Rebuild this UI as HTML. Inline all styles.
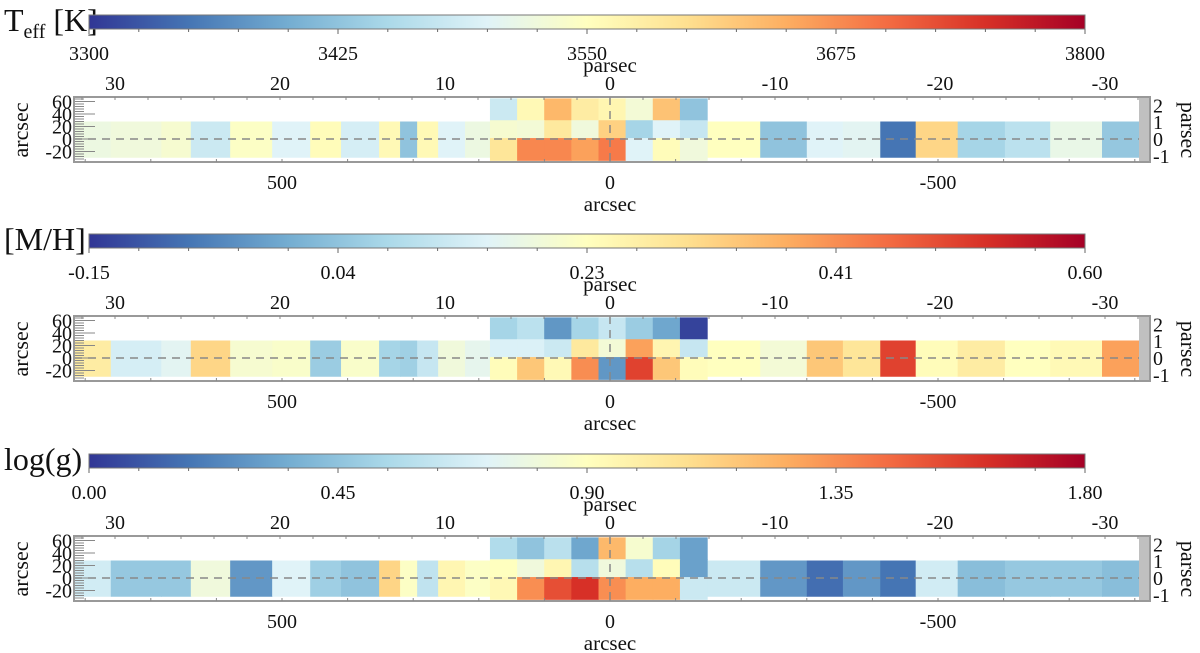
<!DOCTYPE html>
<html><head><meta charset="utf-8">
<style>
html,body{margin:0;padding:0;background:#fff;}
svg{display:block;font-family:"Liberation Serif",serif;}
</style></head>
<body>
<svg id="fig" width="1200" height="653" viewBox="0 0 1200 653" xmlns="http://www.w3.org/2000/svg"></svg>
<script>
// ---- data ----
const panelTitles = ["Teff", "[M/H]", "log(g)"];
const cbarMin = [3300, -0.15, 0.00];
const cbarMax = [3800, 0.60, 1.80];
const cbarTicks1 = ["3300", "3425", "3550", "3675", "3800"];
const cbarTicks2 = ["-0.15", "0.04", "0.23", "0.41", "0.60"];
const cbarTicks3 = ["0.00", "0.45", "0.90", "1.35", "1.80"];
const parsecTicks = [30, 20, 10, 0, -10, -20, -30];
const arcsecTicks = [500, 0, -500];
const yArcTicks = [60, 40, 20, 0, -20];
const yPcTicks = [2, 1, 0, -1];
// bin edges along the strip, in arcsec
const leftEdges = [817, 761, 684, 639, 579, 515, 457, 410, 352, 320, 294, 262, 221, 183];
const rightEdges = [-148, -229, -300, -355, -412, -466, -530, -602, -671, -750, -823];
const centerEdges = [183, 141.6, 100.3, 58.9, 17.5, -23.8, -65.2, -106.6, -148];
const centerRowEdges = [65, 30, 1.5, -34];
const stripTop = 28, stripBot = -30;
// values
const teffLeft = [3520,3525,3535,3480,3545,3500,3555,3490,3560,3425,3560,3500,3520];
const teffRight = [3550,3425,3500,3505,3350,3610,3445,3465,3515,3430];
const teffCenter0 = [3480,3560,3640,3580,3565,3530,3630,3425];
const teffCenter1 = [3535,3530,3585,3525,3615,3445,3500,3475];
const teffCenter2 = [3590,3680,3680,3660,3690,3500,3555,3525];
const mhLeft = [0.27,0.135,0.158,0.315,0.203,0.21,0.053,0.21,0.068,0.06,0.113,0.188,0.165];
const mhRight = [0.225,0.195,0.338,0.285,0.503,0.233,0.27,0.225,0.24,0.39];
const mhCenter0 = [0.068,0.098,-0.03,0.068,0.113,0.053,-0.008,-0.135];
const mhCenter1 = [0.143,0.143,0.12,0.278,0.195,0.39,0.248,0.113];
const mhCenter2 = [0.233,0.338,0.24,0.413,-0.03,0.503,0.338,0.233];
const loggLeft = [0.67,0.47,0.47,0.81,0.29,0.72,0.50,0.45,1.12,0.88,0.61,0.95,0.88];
const loggRight = [0.65,0.29,0.16,0.29,0.18,0.67,0.43,0.47,0.47,0.43];
const loggCenter0 = [0.56,0.45,0.59,0.34,1.22,0.85,0.52,0.32];
const loggCenter1 = [0.90,0.81,0.95,0.58,0.81,0.58,0.92,0.32];
const loggCenter2 = [0.94,1.35,1.53,1.62,1.35,1.26,1.26,0.65];

// ---- helpers ----
const NS = "http://www.w3.org/2000/svg";
const svg = document.getElementById("fig");
const stops = ["#313695","#4575b4","#74add1","#abd9e9","#e0f3f8","#ffffbf","#fee090","#fdae61","#f46d43","#d73027","#a50026"];
function hex(h){return [1,3,5].map(i=>parseInt(h.substr(i,2),16));}
function cmap(t){
  t=Math.max(0,Math.min(1,t));
  const f=t*10, i=Math.min(9,Math.floor(f)), r=f-i;
  const a=hex(stops[i]), b=hex(stops[i+1]);
  return "rgb("+a.map((v,k)=>Math.round(v+(b[k]-v)*r)).join(",")+")";
}
function el(tag, attrs, parent){
  const e=document.createElementNS(NS,tag);
  for(const k in attrs) e.setAttribute(k,attrs[k]);
  (parent||svg).appendChild(e); return e;
}
const xArc = a => 610 - a*0.656;     // arcsec -> px
const xPc = p => 610 - p*16.5;       // parsec -> px
function yArc(a, dy){ return 139 + dy - a*0.625; }
function yPc(p, dy){ return 139 + dy - p*16.8; }
const CB_X0=89, CB_X1=1085;

// gradient
const defs=el("defs",{});
const grad=el("linearGradient",{id:"rdylbu",x1:"0",x2:"1",y1:"0",y2:"0"},defs);
stops.forEach((c,i)=>el("stop",{offset:(i/10).toString(),"stop-color":c},grad));

const panels=[
  {dy:0, ticks:cbarTicks1, left:teffLeft, right:teffRight, center:[teffCenter0,teffCenter1,teffCenter2]},
  {dy:219, ticks:cbarTicks2, left:mhLeft, right:mhRight, center:[mhCenter0,mhCenter1,mhCenter2]},
  {dy:439, ticks:cbarTicks3, left:loggLeft, right:loggRight, center:[loggCenter0,loggCenter1,loggCenter2]}
];

panels.forEach((P,pi)=>{
  const dy=P.dy, vmin=cbarMin[pi], vmax=cbarMax[pi];
  const norm=v=>(v-vmin)/(vmax-vmin);
  const g=el("g",{});
  
  
  // title
  const tt=el("text",{x:4,y:31+dy,"font-size":32,fill:"#111"},g);
  
  
  if(pi===0){
    const s1=el("tspan",{},tt); s1.textContent="T";
    const s2=el("tspan",{"font-size":20,dy:7},tt); s2.textContent="eff";
    const s3=el("tspan",{dy:-7},tt); s3.textContent=" [K]";
  } else tt.textContent=panelTitles[pi];
  // colorbar
  const cb=el("rect",{x:CB_X0,y:15+dy,width:CB_X1-CB_X0,height:14,fill:"url(#rdylbu)",stroke:"#777","stroke-width":1},g);
  
  
  for(let i=0;i<=20;i++){
    const x=CB_X0+(CB_X1-CB_X0)*i/20;
    const tk=el("line",{x1:x,x2:x,y1:29+dy,y2:(i%5===0?34:32)+dy,stroke:"#666","stroke-width":1},g);
    
    
  }
  P.ticks.forEach((lab,i)=>{
    const t=el("text",{x:CB_X0+(CB_X1-CB_X0)*i/(P.ticks.length-1),y:60+dy,"font-size":20,"text-anchor":"middle",fill:"#111"},g);
    
    
    t.textContent=lab;
  });
  // top axis
  const pt=el("text",{x:610,y:72+dy,"font-size":21,"text-anchor":"middle",fill:"#111"},g);
  
  
  pt.textContent="parsec";
  parsecTicks.forEach(p=>{
    const t=el("text",{x:xPc(p),y:90+dy,"font-size":20,"text-anchor":"middle",fill:"#111"},g);
    
    
    t.textContent=p;
  });
  // map cells
  const yTop=yArc(stripTop,dy), yBot=yArc(stripBot,dy);
  P.left.forEach((v,i)=>{
    const x0=xArc(leftEdges[i]), x1=xArc(leftEdges[i+1]);
    const r=el("rect",{x:x0,y:yTop,width:x1-x0+0.6,height:yBot-yTop,fill:cmap(norm(v))},g);
    
    
  });
  P.right.forEach((v,i)=>{
    const x0=xArc(rightEdges[i]), x1=xArc(rightEdges[i+1]);
    const r=el("rect",{x:x0,y:yTop,width:x1-x0+0.6,height:yBot-yTop,fill:cmap(norm(v))},g);
    
    
  });
  P.center.forEach((row,ri)=>{
    row.forEach((v,ci)=>{
      const x0=xArc(centerEdges[ci]), x1=xArc(centerEdges[ci+1]);
      const y0=yArc(centerRowEdges[ri],dy), y1=yArc(centerRowEdges[ri+1],dy);
      const r=el("rect",{x:x0,y:y0,width:x1-x0+0.6,height:y1-y0+0.6,fill:cmap(norm(v))},g);
      
      
    });
  });
  // dashed lines
  const hl=el("line",{x1:74,x2:1150,y1:yArc(0,dy),y2:yArc(0,dy),stroke:"#888","stroke-width":1.5,"stroke-dasharray":"8,6"},g);
  
  
  const vl=el("line",{x1:610,x2:610,y1:97+dy,y2:162+dy,stroke:"#888","stroke-width":1.5,"stroke-dasharray":"8,6"},g);
  
  
  // left comb ticks
  for(let a=-36;a<=64;a+=4){
    const y=yArc(a,dy);
    const tk=el("line",{x1:74,x2:(a%20===0?95:84),y1:y,y2:y,stroke:"#888","stroke-width":1},g);
    
    
  }
  // right comb
  const rc=el("rect",{x:1139,y:97+dy,width:11,height:65,fill:"#d0d0d0"},g);
  
  
  for(let k=0;k<=32;k++){
    const y=97+dy+k*2;
    const tk=el("line",{x1:1139,x2:1150,y1:y,y2:y,stroke:"#999","stroke-width":0.6},g);
    
    
  }
  // box
  const bx=el("rect",{x:74,y:97+dy,width:1076,height:65,fill:"none",stroke:"#999","stroke-width":2},g);
  
  
  // top/bottom minor ticks
  for(let p=32;p>=-32;p-=2){
    const x=xPc(p);
    const tk=el("line",{x1:x,x2:x,y1:97+dy,y2:100+dy,stroke:"#888","stroke-width":1},g);
    
    
  }
  for(let a=800;a>=-800;a-=100){
    const x=xArc(a);
    const tk=el("line",{x1:x,x2:x,y1:159+dy,y2:162+dy,stroke:"#888","stroke-width":1},g);
    
    
  }
  // y labels
  yArcTicks.forEach(a=>{
    const t=el("text",{x:72,y:yArc(a,dy)+7,"font-size":20,"text-anchor":"end",fill:"#111"},g);
    
    
    t.textContent=a;
  });
  yPcTicks.forEach(p=>{
    const t=el("text",{x:1153,y:yPc(p,dy)+7,"font-size":20,fill:"#111"},g);
    
    
    t.textContent=p;
  });
  const ya=el("text",{x:0,y:0,"font-size":22,"text-anchor":"middle",fill:"#111",transform:"translate(28,"+(130+dy)+") rotate(-90)"},g);
  
  
  ya.textContent="arcsec";
  const yb=el("text",{x:0,y:0,"font-size":22,"text-anchor":"middle",fill:"#111",transform:"translate(1181,"+(130+dy)+") rotate(90)"},g);
  
  
  yb.textContent="parsec";
  // bottom axis
  arcsecTicks.forEach(a=>{
    const t=el("text",{x:xArc(a),y:189+dy,"font-size":20,"text-anchor":"middle",fill:"#111"},g);
    
    
    t.textContent=a;
  });
  const xt=el("text",{x:610,y:211+dy,"font-size":21,"text-anchor":"middle",fill:"#111"},g);
  
  
  xt.textContent="arcsec";
});
</script>
</body></html>
